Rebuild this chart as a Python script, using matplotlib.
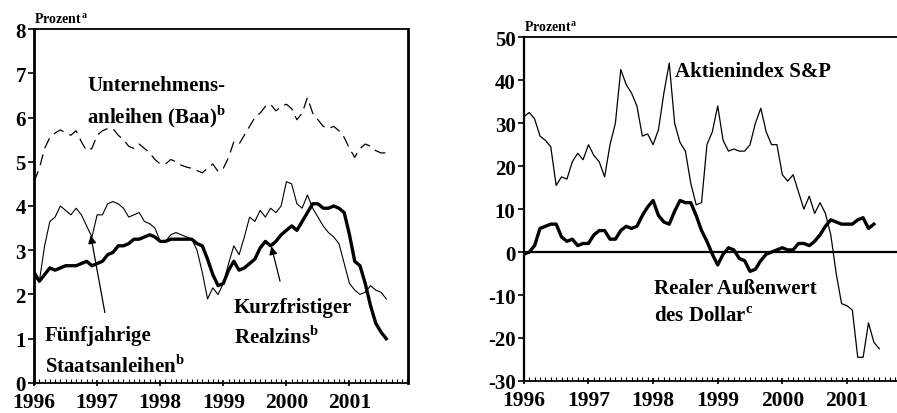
import numpy as np
import matplotlib
matplotlib.use("Agg")
import matplotlib.pyplot as plt
from matplotlib.ticker import MultipleLocator

plt.rcParams['font.family'] = ['Liberation Serif', 'DejaVu Serif']
plt.rcParams['axes.unicode_minus'] = False
plt.rcParams['mathtext.fontset'] = 'custom'
plt.rcParams['mathtext.rm'] = 'Liberation Serif'
plt.rcParams['mathtext.bf'] = 'Liberation Serif:bold'

# monthly values, starting January 1996
baa = [4.55, 4.85, 5.3, 5.55, 5.65, 5.72, 5.65, 5.6, 5.7, 5.45, 5.25, 5.3,
       5.6, 5.7, 5.75, 5.75, 5.6, 5.5, 5.35, 5.3, 5.4, 5.3, 5.2, 5.05,
       4.95, 4.95, 5.05, 5.0, 4.92, 4.88, 4.85, 4.8, 4.75, 4.85, 4.95, 4.78,
       4.85, 5.1, 5.45, 5.4, 5.6, 5.8, 6.0, 6.1, 6.25, 6.3, 6.15, 6.25,
       6.3, 6.2, 5.95, 6.1, 6.45, 6.1, 5.95, 5.8, 5.75, 5.8, 5.7, 5.55,
       5.3, 5.1, 5.3, 5.4, 5.35, 5.25, 5.2, 5.2]
staats = [2.4, 2.3, 3.1, 3.65, 3.75, 4.0, 3.9, 3.8, 3.95, 3.8, 3.55, 3.3,
          3.8, 3.8, 4.05, 4.1, 4.05, 3.95, 3.75, 3.8, 3.85, 3.65, 3.6, 3.5,
          3.2, 3.2, 3.35, 3.4, 3.35, 3.3, 3.25, 3.0, 2.5, 1.9, 2.15, 2.0,
          2.25, 2.7, 3.1, 2.9, 3.3, 3.75, 3.65, 3.9, 3.75, 3.95, 3.85, 4.0,
          4.55, 4.5, 4.05, 3.95, 4.25, 3.95, 3.75, 3.55, 3.4, 3.3, 3.15, 2.7,
          2.25, 2.1, 2.0, 2.05, 2.2, 2.1, 2.05, 1.9]
realzins = [2.5, 2.3, 2.45, 2.6, 2.55, 2.6, 2.65, 2.65, 2.65, 2.7, 2.75, 2.65,
            2.7, 2.75, 2.9, 2.95, 3.1, 3.1, 3.15, 3.25, 3.25, 3.3, 3.35, 3.3,
            3.2, 3.2, 3.25, 3.25, 3.25, 3.25, 3.25, 3.15, 3.1, 2.8, 2.45, 2.2,
            2.25, 2.55, 2.75, 2.55, 2.6, 2.7, 2.8, 3.05, 3.2, 3.1, 3.2, 3.35,
            3.45, 3.55, 3.45, 3.65, 3.85, 4.05, 4.05, 3.95, 3.95, 4.0, 3.95, 3.85,
            3.35, 2.75, 2.65, 2.25, 1.75, 1.35, 1.15, 1.0]

sp = [31.5, 32.5, 31, 27, 26, 24.5, 15.5, 17.5, 17, 21, 23, 21.5,
      25, 22.5, 21, 17.5, 25, 30, 42.5, 39, 37, 34, 27, 27.5,
      25, 28.5, 37, 44, 30, 25.5, 23.5, 16, 11, 11.5, 25, 28,
      34, 26, 23.5, 24, 23.5, 23.5, 25, 30, 33.5, 28, 25, 25,
      18, 16.5, 18, 14, 10, 13, 9, 11.5, 9, 4, -5, -12,
      -12.5, -13.5, -24.5, -24.5, -16.5, -21, -22.5]
dollar = [-0.5, 0, 1.5, 5.5, 6, 6.5, 6.5, 3.5, 2.5, 3, 1.5, 2,
          2, 4, 5, 5, 3, 3, 5, 6, 5.5, 6, 8.5, 10.5,
          12, 8.5, 7, 6.5, 9.5, 12, 11.5, 11.5, 8.5, 5, 2.5, -0.5,
          -3, -0.5, 1, 0.5, -1.5, -2, -4.5, -4, -2, -0.5, 0, 0.5,
          1, 0.5, 0.5, 2, 2, 1.5, 2.5, 4, 6, 7.5, 7, 6.5,
          6.5, 6.5, 7.5, 8, 5.5, 6.5]

years = [1996, 1997, 1998, 1999, 2000, 2001]

t_left = 1996 + np.arange(len(baa)) / 12
t_sp = 1996 + np.arange(len(sp)) / 12
t_dol = 1996 + np.arange(len(dollar)) / 12

fig = plt.figure(figsize=(8.97, 4.14), dpi=100)
ax1 = fig.add_axes([0.038, 0.0725, 0.417, 0.855])
ax2 = fig.add_axes([0.584, 0.0775, 0.42, 0.83])

txt = dict(fontsize=15, fontweight='bold')


def style(ax):
    ax.set_xticks(years)
    ax.set_xticklabels([str(y) for y in years], fontsize=15.5, fontweight='bold')
    ax.xaxis.set_minor_locator(MultipleLocator(1 / 12))
    ax.tick_params(axis='x', which='major', direction='inout', length=5, width=1.2, pad=4)
    ax.tick_params(axis='x', which='minor', direction='in', length=3, width=0.8)
    ax.tick_params(axis='y', direction='out', length=4, width=1.2, pad=2)
    for lab in ax.get_yticklabels():
        lab.set_fontsize(15)
        lab.set_fontweight('bold')
    for s in ax.spines.values():
        s.set_linewidth(1.3)


# left panel
ax1.plot(t_left, baa, color='black', lw=0.9, ls=(0, (9, 5)))
ax1.plot(t_left, staats, color='black', lw=0.8)
ax1.plot(t_left, realzins, color='black', lw=2.4)
ax1.set_xlim(1996, 2001.93)
ax1.set_ylim(0, 8)
ax1.set_yticks(range(0, 9))
style(ax1)
ax1.spines['left'].set_linewidth(2)
ax1.spines['right'].set_linewidth(2)

ax1.text(1996.84, 6.73, "Unternehmens-", va='center', **txt)
ax1.text(1996.84, 6.05, "anleihen (Baa)$^{\\mathbf{b}}$", va='center', **txt)
ax1.text(1996.17, 1.08, "Fünfjahrige", va='center', **txt)
ax1.text(1996.17, 0.4, "Staatsanleihen$^{\\mathbf{b}}$", va='center', **txt)
ax1.text(1999.17, 1.72, "Kurzfristiger", va='center', **txt)
ax1.text(1999.17, 1.04, "Realzins$^{\\mathbf{b}}$", va='center', **txt)
ax1.annotate("", xy=(1996.89, 3.4), xytext=(1997.13, 1.53),
             arrowprops=dict(arrowstyle='-|>', color='black', lw=0.9, mutation_scale=12))
ax1.annotate("", xy=(1999.75, 3.15), xytext=(1999.91, 2.24),
             arrowprops=dict(arrowstyle='-|>', color='black', lw=0.9, mutation_scale=12))
ax1.text(0.0, 1.01, "Prozent$^{\\,\\mathbf{a}}$", transform=ax1.transAxes,
         fontsize=10, fontweight='bold', va='bottom')

# right panel
ax2.axhline(0, color='black', lw=1.6)
ax2.plot(t_sp, sp, color='black', lw=0.9)
ax2.plot(t_dol, dollar, color='black', lw=2.4)
ax2.set_xlim(1996, 2001.83)
ax2.set_ylim(-30, 50)
ax2.set_yticks(range(-30, 51, 10))
style(ax2)
ax2.spines['right'].set_visible(False)
ax2.spines['left'].set_linewidth(1.6)

ax2.text(1998.34, 42.2, "Aktienindex S&P", va='center', **txt)
ax2.text(1998.02, -8.3, "Realer Außenwert", va='center', **txt)
ax2.text(1998.02, -14.9, "des Dollar$^{\\mathbf{c}}$", va='center', **txt)
ax2.text(0.0, 1.01, "Prozent$^{\\mathbf{a}}$", transform=ax2.transAxes,
         fontsize=10, fontweight='bold', va='bottom')

plt.savefig('out.png', dpi=100)
